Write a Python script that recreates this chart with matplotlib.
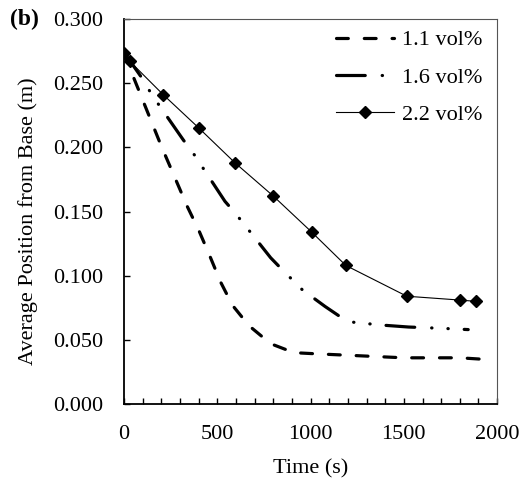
import matplotlib.pyplot as plt
from matplotlib.ticker import MultipleLocator, FormatStrFormatter

# sample times (s) and average position from base (m)
t_11 = [0, 50, 100, 200, 339, 402, 461, 518, 581, 670, 786, 911, 1046, 1200, 1500, 1800, 1910]
y_11 = [0.274, 0.255, 0.237, 0.201, 0.154, 0.135, 0.115, 0.095, 0.077, 0.061, 0.047, 0.040,
        0.039, 0.038, 0.036, 0.036, 0.035]

t_16 = [0, 104, 148, 318, 372, 541, 595, 688, 786, 846, 956, 1078, 1149, 1212, 1373, 1525, 1700, 1845]
y_16 = [0.274, 0.2525, 0.2413, 0.2058, 0.1953, 0.158, 0.149, 0.132, 0.114, 0.105, 0.089, 0.076,
        0.069, 0.064, 0.0616, 0.060, 0.059, 0.058]

t_22 = [0, 32, 211, 402, 595, 801, 1006, 1189, 1516, 1802, 1887]
y_22 = [0.274, 0.267, 0.241, 0.215, 0.188, 0.162, 0.134, 0.108, 0.084, 0.081, 0.080]

labels = ['1.1 vol%', '1.6 vol%', '2.2 vol%']

plt.rcParams['font.family'] = ['Liberation Serif', 'DejaVu Serif']
plt.rcParams['font.size'] = 16

fig = plt.figure(figsize=(5.2, 4.79), dpi=100)
ax = fig.add_axes([0.2385, 0.1566, 0.7175, 0.8034])

ax.plot(t_11, y_11, color='black', lw=2.3, dashes=(3.7, 5), dash_capstyle='round',
        label=labels[0])
ax.plot(t_16, y_16, color='black', lw=2.3, dashes=(9, 5.3, 0.1, 5, 0.1, 5),
        dash_capstyle='round', label=labels[1])
ax.plot(t_22, y_22, color='black', lw=0.8, marker='D', ms=6.5, label=labels[2])

ax.set_xlim(0, 2000)
ax.set_ylim(0, 0.3)
ax.xaxis.set_major_locator(MultipleLocator(500))
ax.xaxis.set_minor_locator(MultipleLocator(100))
ax.yaxis.set_major_locator(MultipleLocator(0.05))
ax.yaxis.set_major_formatter(FormatStrFormatter('%.3f'))
ax.tick_params(which='both', direction='in', length=4.5, width=1, color='black')
ax.tick_params(axis='x', which='major', pad=15)
ax.tick_params(axis='y', pad=15)

for side in ['left', 'bottom']:
    ax.spines[side].set_linewidth(1.3)
for side in ['top', 'right']:
    ax.spines[side].set_linewidth(0.8)
    ax.spines[side].set_color('#555555')

ax.set_xlabel('Time (s)', labelpad=11)
ax.set_ylabel('Average Position from Base (m)', labelpad=11, y=0.475)

ax.legend(loc='upper right', bbox_to_anchor=(0.972, 0.984), frameon=False,
          handlelength=2.6, handletextpad=0.36, labelspacing=0.76,
          borderpad=0.2, borderaxespad=0)

fig.text(0.02, 0.959, '(b)', fontweight='bold', fontsize=17, va='center')

fig.savefig('out.png', dpi=100)
